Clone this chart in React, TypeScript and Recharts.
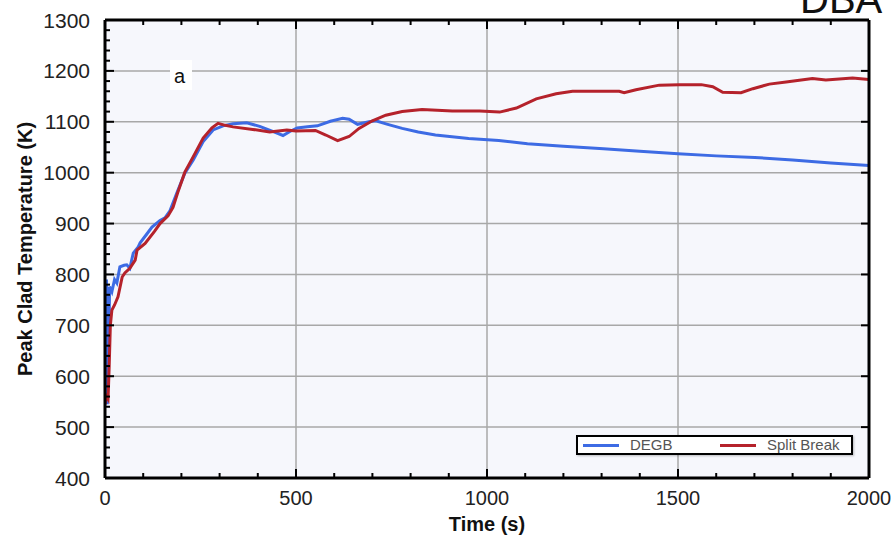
import { CartesianGrid, Legend, Line, LineChart, XAxis, YAxis } from "recharts";

// DEGB break, peak clad temperature vs time
const degbTime = [
  0, 2, 4, 6, 8, 10, 12, 18, 25, 31, 39, 50, 57, 65, 74, 87, 92, 110, 123, 144, 157, 170, 188, 209, 231,
  257, 283, 309, 335, 371, 405, 439, 466, 484, 503, 530, 556, 590, 622, 639, 661, 691, 709, 740, 778, 820,
  865, 952, 1031, 1106, 1200, 1305, 1400, 1500, 1600, 1701, 1800, 1900, 2000
];
const degbTemp = [
  780, 560, 790, 545, 770, 640, 776, 766, 790, 783, 815, 818, 819, 812, 842, 854, 862, 880, 893, 906, 911,
  925, 960, 999, 1025, 1061, 1084, 1092, 1096, 1098, 1091, 1081, 1073, 1081, 1088, 1090, 1092, 1101, 1107,
  1105, 1095, 1100, 1102, 1095, 1087, 1080, 1074, 1067, 1063, 1057, 1052, 1047, 1042, 1037, 1033, 1030,
  1025, 1019, 1014
];

// split break
const splitTime = [
  0, 4, 8, 11, 14, 18, 25, 34, 45, 52, 65, 79, 84, 105, 130, 144, 165, 178, 190, 209, 230, 257, 280, 296,
  315, 335, 387, 431, 476, 500, 551, 578, 609, 639, 665, 700, 735, 778, 830, 909, 981, 1033, 1077, 1129,
  1181, 1224, 1346, 1359, 1390, 1451, 1503, 1561, 1591, 1617, 1665, 1696, 1739, 1783, 1852, 1887, 1957, 2000
];
const splitTemp = [
  545, 560, 555, 620, 700, 730, 740, 756, 795, 803, 812, 828, 848, 861, 885, 900, 915, 932, 960, 1001, 1030,
  1068, 1088, 1097, 1093, 1090, 1085, 1080, 1084, 1082, 1083, 1074, 1063, 1071, 1087, 1102, 1113, 1120,
  1124, 1121, 1121, 1119, 1127, 1145, 1155, 1160, 1160, 1157, 1163, 1172, 1173, 1173, 1169, 1158, 1157,
  1165, 1174, 1178, 1185, 1182, 1186, 1183
];

const xTicks = [
  0, 100, 200, 300, 400, 500, 600, 700, 800, 900, 1000, 1100, 1200, 1300, 1400, 1500, 1600, 1700, 1800,
  1900, 2000
];
const xMajor = [0, 500, 1000, 1500, 2000];
const yTicks = [
  400, 420, 440, 460, 480, 500, 520, 540, 560, 580, 600, 620, 640, 660, 680, 700, 720, 740, 760, 780, 800,
  820, 840, 860, 880, 900, 920, 940, 960, 980, 1000, 1020, 1040, 1060, 1080, 1100, 1120, 1140, 1160, 1180,
  1200, 1220, 1240, 1260, 1280, 1300
];
const yMajor = [400, 500, 600, 700, 800, 900, 1000, 1100, 1200, 1300];

const degbData = degbTime.map((t, i) => ({ t, temp: degbTemp[i] }));
const splitData = splitTime.map((t, i) => ({ t, temp: splitTemp[i] }));

const FONT = '"Liberation Sans", Arial, Helvetica, sans-serif';
const BLUE = "#3d6be4";
const RED = "#b5222b";

function BottomTick({ x, y, payload }: any) {
  const major = payload.value % 500 === 0;
  return (
    <g>
      <line x1={x} y1={y} x2={x} y2={y - (major ? 9 : 5)} stroke="#000" strokeWidth={2} />
      {major && (
        <text x={x} y={y + 27} textAnchor="middle" fontSize={20} fill="#222" fontFamily={FONT}>
          {payload.value}
        </text>
      )}
    </g>
  );
}

function TopTick({ x, y, payload }: any) {
  const major = payload.value % 500 === 0;
  return <line x1={x} y1={y} x2={x} y2={y + (major ? 9 : 5)} stroke="#000" strokeWidth={2} />;
}

function LeftTick({ x, y, payload }: any) {
  const major = payload.value % 100 === 0;
  return (
    <g>
      <line x1={x} y1={y} x2={x + (major ? 9 : 5)} y2={y} stroke="#000" strokeWidth={2} />
      {major && (
        <text x={x - 15} y={y} textAnchor="end" dominantBaseline="central" fontSize={21} fill="#222" fontFamily={FONT}>
          {payload.value}
        </text>
      )}
    </g>
  );
}

function RightTick({ x, y }: any) {
  return <line x1={x} y1={y} x2={x - 8} y2={y} stroke="#000" strokeWidth={2} />;
}

function YTitle(props: any) {
  const { x, y, height } = props.viewBox;
  const cx = x + 20;
  const cy = y + height / 2;
  return (
    <text
      x={cx}
      y={cy}
      transform={`rotate(-90, ${cx}, ${cy})`}
      textAnchor="middle"
      dominantBaseline="central"
      fontSize={20}
      fontWeight="bold"
      fill="#111"
      fontFamily={FONT}
    >
      Peak Clad Temperature (K)
    </text>
  );
}

function XTitle(props: any) {
  const { x, y, width } = props.viewBox;
  return (
    <text x={x + width / 2} y={y + 53} textAnchor="middle" fontSize={20} fontWeight="bold" fill="#111" fontFamily={FONT}>
      Time (s)
    </text>
  );
}

function LegendBox({ payload }: any) {
  const offsets = [5, 142];
  return (
    <div
      style={{
        position: "relative",
        boxSizing: "border-box",
        width: 277,
        height: 20,
        border: "2px solid #000",
        background: "#fff",
        fontFamily: FONT,
        fontSize: 15,
        color: "#555",
        boxShadow: "1px 1px 2px rgba(0,0,0,0.25)"
      }}
    >
      {(payload || []).map((entry: any, i: number) => (
        <div key={entry.value} style={{ position: "absolute", left: offsets[i], top: 0, height: 16, display: "flex", alignItems: "center" }}>
          <span style={{ display: "inline-block", width: 36, height: 3, background: entry.color }} />
          <span style={{ marginLeft: 11, lineHeight: "16px" }}>{entry.value}</span>
        </div>
      ))}
    </div>
  );
}

const axisLine = { stroke: "#000", strokeWidth: 3 };

export default function App() {
  return (
    <div style={{ position: "absolute", left: 0, top: 0, width: 896, height: 537, overflow: "hidden", background: "#fff" }}>
      <LineChart width={896} height={537} margin={{ top: 19, right: 26, bottom: 0, left: 5 }}>
        <CartesianGrid
          xAxisId="bottom"
          yAxisId="left"
          fill="#f6f7fc"
          stroke="#a8a8a8"
          strokeWidth={1.5}
          horizontalValues={yMajor}
          verticalValues={xMajor}
        />
        <XAxis
          xAxisId="bottom"
          dataKey="t"
          type="number"
          domain={[0, 2000]}
          ticks={xTicks}
          interval={0}
          height={59}
          tickSize={0}
          tickMargin={0}
          tick={<BottomTick />}
          axisLine={axisLine}
          allowDataOverflow
          label={<XTitle />}
        />
        <XAxis
          xAxisId="top"
          orientation="top"
          dataKey="t"
          type="number"
          domain={[0, 2000]}
          ticks={xTicks}
          interval={0}
          height={1}
          tickSize={0}
          tickMargin={0}
          tick={<TopTick />}
          axisLine={axisLine}
          allowDataOverflow
        />
        <YAxis
          yAxisId="left"
          type="number"
          domain={[400, 1300]}
          ticks={yTicks}
          interval={0}
          width={100}
          tickSize={0}
          tickMargin={0}
          tick={<LeftTick />}
          axisLine={axisLine}
          allowDataOverflow
          label={<YTitle />}
        />
        <YAxis
          yAxisId="right"
          orientation="right"
          type="number"
          domain={[400, 1300]}
          ticks={yMajor}
          interval={0}
          width={1}
          tickSize={0}
          tickMargin={0}
          tick={<RightTick />}
          axisLine={axisLine}
          allowDataOverflow
        />
        <Legend
          verticalAlign="middle"
          align="center"
          content={<LegendBox />}
          wrapperStyle={{ left: 576, top: 435, width: 277, height: 20 }}
        />
        <Line
          xAxisId="bottom"
          yAxisId="left"
          data={degbData}
          dataKey="temp"
          name="DEGB"
          type="linear"
          stroke={BLUE}
          strokeWidth={3}
          dot={false}
          isAnimationActive={false}
        />
        <Line
          xAxisId="bottom"
          yAxisId="left"
          data={splitData}
          dataKey="temp"
          name="Split Break"
          type="linear"
          stroke={RED}
          strokeWidth={3}
          dot={false}
          isAnimationActive={false}
        />
      </LineChart>
      <svg width={896} height={537} style={{ position: "absolute", left: 0, top: 0, pointerEvents: "none" }}>
        <rect x={170} y={60} width={22} height={30} fill="#fff" />
        <text x={174} y={83} fontSize={20} fill="#111" fontFamily={FONT}>
          a
        </text>
        <text x={800} y={13} fontSize={40} fill="#111" fontFamily={FONT}>
          DBA
        </text>
      </svg>
    </div>
  );
}
